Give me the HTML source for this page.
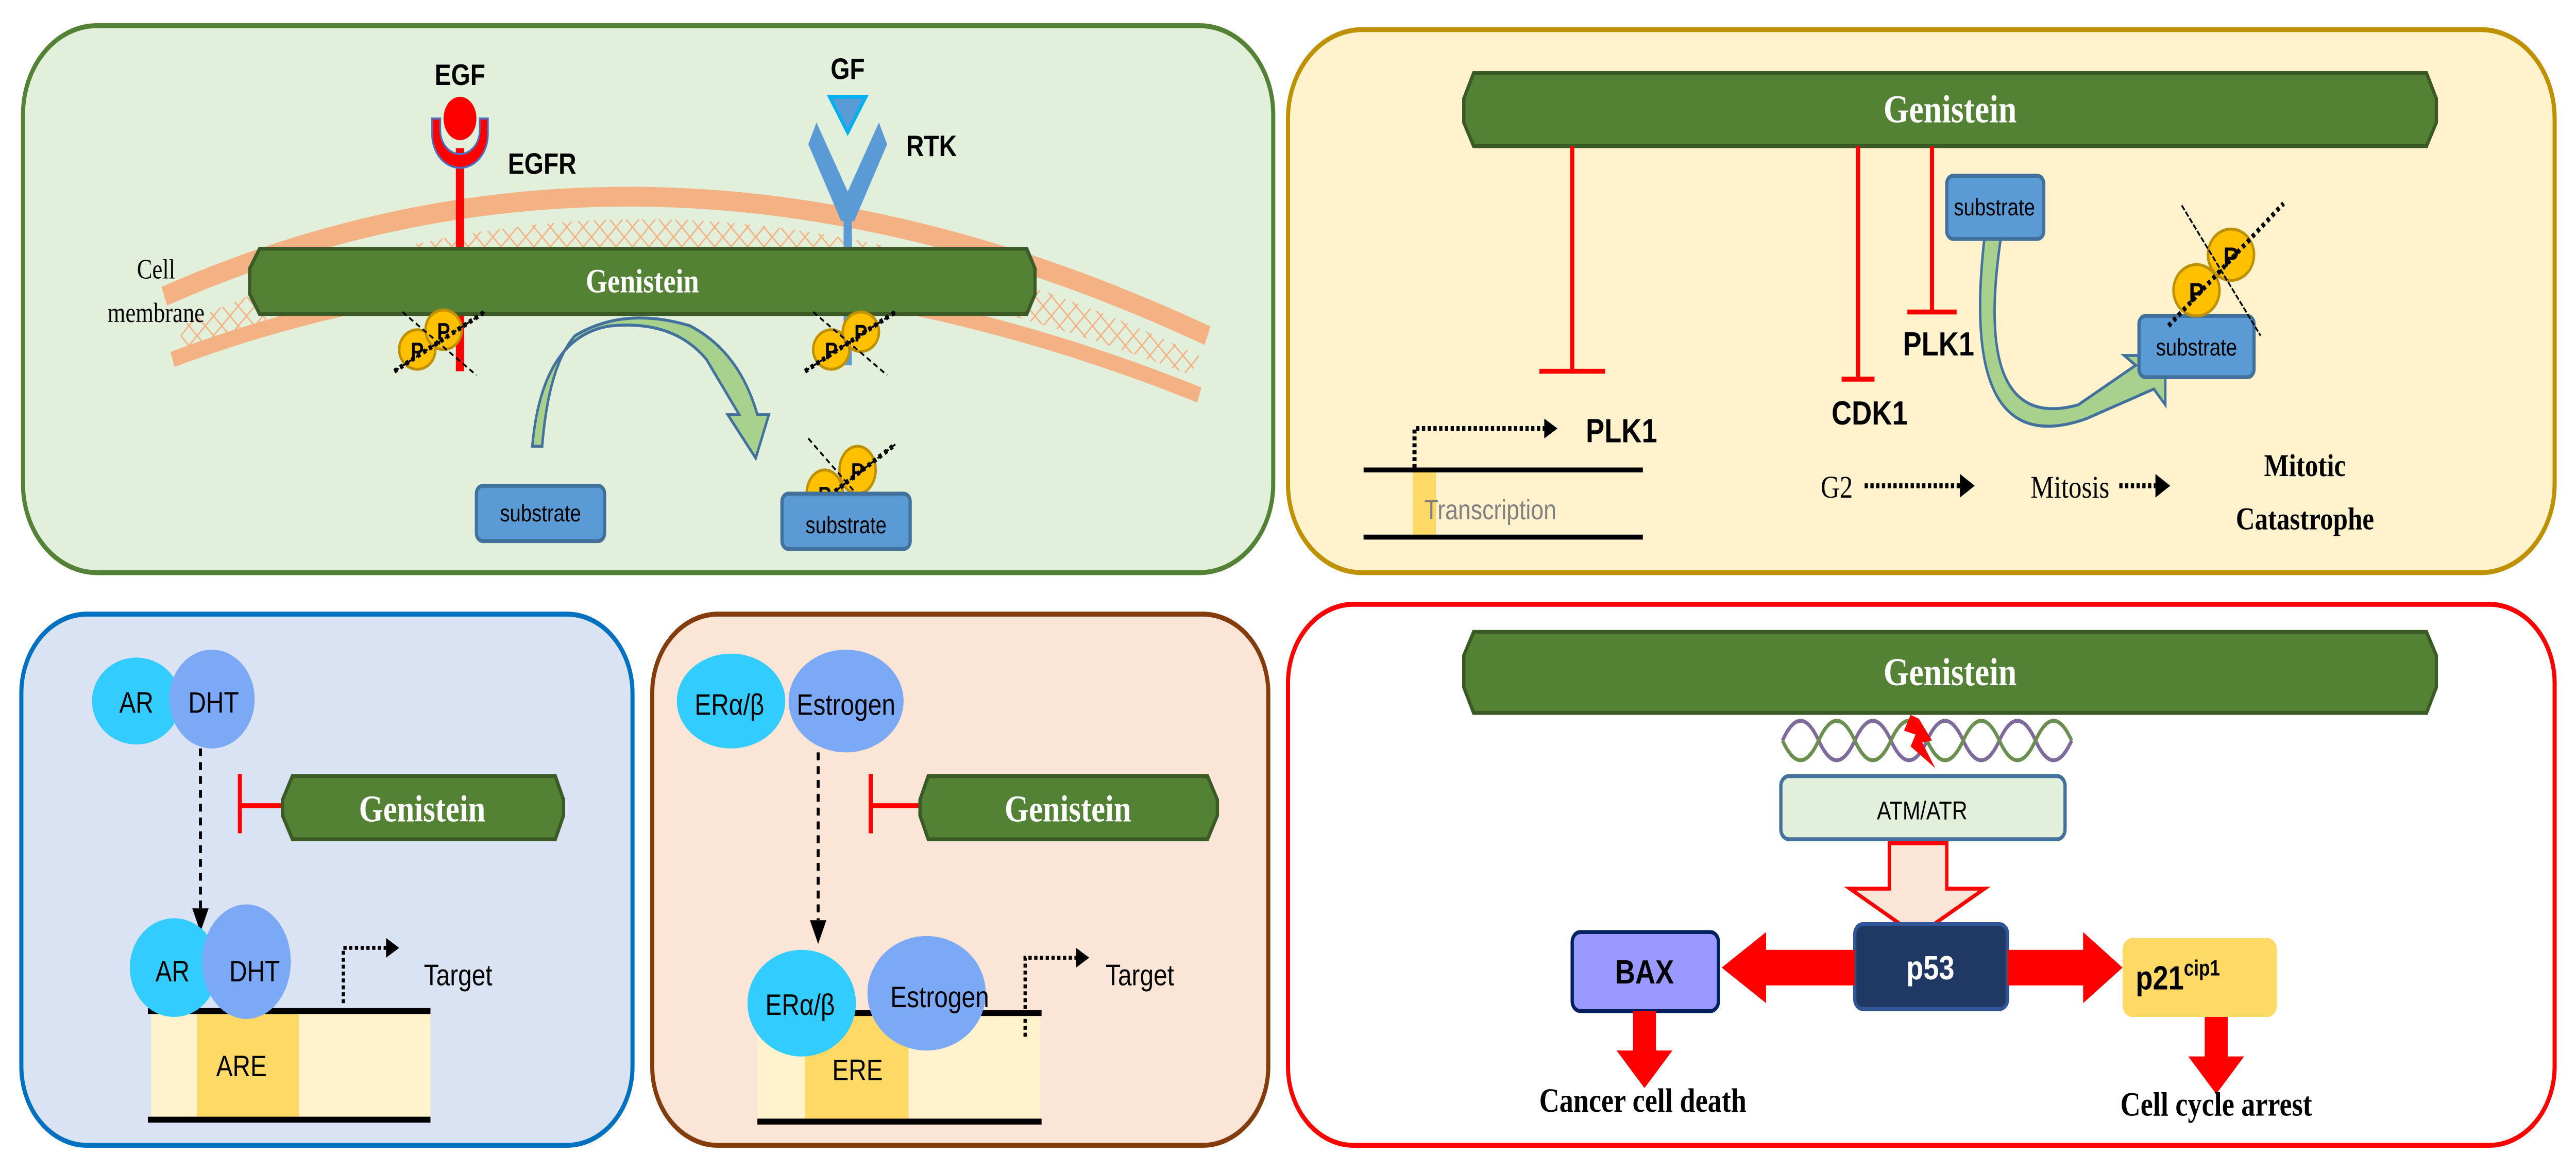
<!DOCTYPE html>
<html><head><meta charset="utf-8"><style>
html,body{margin:0;padding:0;background:#fff;overflow:hidden;width:100vw;height:100vh;}
svg{display:block;position:absolute;left:0;top:0;width:100vw;height:100vh;}
.sb{font-family:"Liberation Sans",sans-serif;font-weight:bold;}
.sf{font-family:"Liberation Serif",serif;font-weight:bold;}
.gen{font-family:"Liberation Serif",serif;font-weight:bold;fill:#fff;}
</style></head><body>
<svg viewBox="0 0 1568 593" preserveAspectRatio="none" xmlns="http://www.w3.org/2000/svg">
<defs>
<pattern id="hatch" width="10" height="10" patternUnits="userSpaceOnUse">
<path d="M0,0 L10,10 M10,0 L0,10" stroke="#f4b183" stroke-width="0.8"/>
</pattern>
</defs>

<!-- Panel 1 -->
<rect x="14" y="13" width="761" height="277" rx="45" fill="#e2efda" stroke="#538135" stroke-width="2.5"/>
<path d="M110,165 Q400,50 730,180 L725,190 Q400,85 110,178 z" fill="url(#hatch)"/>
<path d="M100,150 Q400,40 735,170" fill="none" stroke="#f4b183" stroke-width="10"/>
<path d="M105,182 Q400,90 730,200" fill="none" stroke="#f4b183" stroke-width="8"/>
<text x="95" y="141" class="sf" font-size="14" text-anchor="middle" style="font-weight:normal">Cell</text>
<text x="95" y="163" class="sf" font-size="14" text-anchor="middle" style="font-weight:normal">membrane</text>
<line x1="280" y1="75" x2="280" y2="188" stroke="#f00" stroke-width="5"/>
<path d="M263,60 L263,68 A17,17 0 0 0 297,68 L297,60 L292,60 L292,66 A12,12 0 0 1 268,66 L268,60z" fill="#f00" stroke="#4472c4" stroke-width="1"/>
<ellipse cx="280" cy="60" rx="10" ry="11" fill="#f00"/>
<text x="280" y="43" class="sb" font-size="15" text-anchor="middle">EGF</text>
<text x="330" y="88" class="sb" font-size="15" text-anchor="middle">EGFR</text>
<line x1="516" y1="100" x2="516" y2="185" stroke="#5b9bd5" stroke-width="5"/>
<path d="M497,62 L516,97 L535,62 L540,73 L520,112 L512,112 L492,73z" fill="#5b9bd5"/>
<path d="M505,49 L527,49 L516,67z" fill="#5b9bd5" stroke="#00b0f0" stroke-width="2"/>
<text x="516" y="40" class="sb" font-size="15" text-anchor="middle">GF</text>
<text x="567" y="79" class="sb" font-size="15" text-anchor="middle">RTK</text>
<path d="M158,126 L625,126 L630,136 L630,149 L625,159 L158,159 L152,149 L152,136z" fill="#548235" stroke="#3b5a26" stroke-width="2"/>
<text x="391" y="148" class="gen" font-size="17" text-anchor="middle">Genistein</text>
<g stroke="#bf9000" stroke-width="1.5" fill="#ffc000">
<ellipse cx="254" cy="177" rx="11" ry="10"/><ellipse cx="270" cy="167" rx="11" ry="10"/>
<ellipse cx="506" cy="177" rx="11" ry="10"/><ellipse cx="524" cy="168" rx="11" ry="10"/>
<ellipse cx="502" cy="250" rx="11" ry="12"/><ellipse cx="522" cy="238" rx="11" ry="12"/>
</g>
<g class="sb" font-size="12" text-anchor="middle">
<text x="254" y="182">P</text><text x="270" y="172">P</text>
<text x="506" y="182">P</text><text x="524" y="173">P</text>
<text x="502" y="255">P</text><text x="522" y="243">P</text>
</g>
<g stroke="#000" stroke-width="1" stroke-dasharray="3,2" fill="none">
<line x1="240" y1="188" x2="295" y2="158"/><line x1="245" y1="158" x2="290" y2="190"/>
<line x1="490" y1="188" x2="545" y2="158"/><line x1="495" y1="158" x2="540" y2="190"/>
<line x1="488" y1="262" x2="545" y2="225"/><line x1="492" y1="222" x2="540" y2="268"/>
</g>
<g stroke="#000" stroke-width="2.5" stroke-dasharray="2,2" fill="none">
<line x1="240" y1="188" x2="295" y2="158"/><line x1="490" y1="188" x2="545" y2="158"/><line x1="488" y1="262" x2="545" y2="225"/>
</g>
<path d="M324,226 Q330,170 372,165 Q410,162 430,182 L450,210 L443,210 L460,232 L468,210 L461,210 Q450,178 420,165 Q380,155 350,170 Q334,185 330,226z" fill="#a9d18e" stroke="#41719c" stroke-width="1.5"/>
<rect x="290" y="246" width="78" height="28" rx="4" fill="#5b9bd5" stroke="#41719c" stroke-width="2"/>
<text x="329" y="264" class="sb" font-size="12" text-anchor="middle" style="font-weight:normal">substrate</text>
<rect x="476" y="250" width="78" height="28" rx="4" fill="#5b9bd5" stroke="#41719c" stroke-width="2"/>
<text x="515" y="270" class="sb" font-size="12" text-anchor="middle" style="font-weight:normal">substrate</text>

<!-- Panel 2 -->
<rect x="784" y="15" width="771" height="275" rx="45" fill="#fff2cc" stroke="#bf9000" stroke-width="2.5"/>
<path d="M897,37 L1477,37 L1483,50 L1483,62 L1477,74 L897,74 L891,62 L891,50z" fill="#548235" stroke="#3b5a26" stroke-width="2"/>
<text x="1187" y="62" class="gen" font-size="20" text-anchor="middle">Genistein</text>
<g stroke="#f00" stroke-width="2.5">
<line x1="957" y1="74" x2="957" y2="188"/><line x1="937" y1="188" x2="977" y2="188"/>
<line x1="1131" y1="74" x2="1131" y2="192"/><line x1="1121" y1="192" x2="1141" y2="192"/>
<line x1="1176" y1="74" x2="1176" y2="158"/><line x1="1161" y1="158" x2="1191" y2="158"/>
</g>
<text x="987" y="224" class="sb" font-size="17" text-anchor="middle">PLK1</text>
<text x="1138" y="215" class="sb" font-size="17" text-anchor="middle">CDK1</text>
<text x="1180" y="180" class="sb" font-size="17" text-anchor="middle">PLK1</text>
<rect x="860" y="237" width="14" height="35" fill="#ffd966"/>
<line x1="830" y1="238" x2="1000" y2="238" stroke="#000" stroke-width="2.5"/>
<line x1="830" y1="272" x2="1000" y2="272" stroke="#000" stroke-width="2.5"/>
<text x="867" y="263" class="sb" font-size="14" fill="#808080" style="font-weight:normal">Transcription</text>
<path d="M861,237 L861,217 L940,217" fill="none" stroke="#000" stroke-width="2.5" stroke-dasharray="2,1.5"/>
<path d="M940,212 L948,217 L940,222z"/>
<text x="1118" y="252" class="sf" font-size="16" text-anchor="middle" style="font-weight:normal">G2</text>
<line x1="1135" y1="246" x2="1193" y2="246" stroke="#000" stroke-width="2.5" stroke-dasharray="2,1.5"/>
<path d="M1193,240 L1202,246 L1193,252z"/>
<text x="1260" y="252" class="sf" font-size="16" text-anchor="middle" style="font-weight:normal">Mitosis</text>
<line x1="1290" y1="246" x2="1312" y2="246" stroke="#000" stroke-width="2.5" stroke-dasharray="2,1.5"/>
<path d="M1312,240 L1321,246 L1312,252z"/>
<text x="1403" y="241" class="sf" font-size="16" text-anchor="middle">Mitotic</text>
<text x="1403" y="268" class="sf" font-size="16" text-anchor="middle">Catastrophe</text>
<path d="M1218,120 Q1200,220 1265,205 L1300,185 L1293,180 L1318,180 L1318,205 L1311,197 L1270,212 Q1192,235 1208,120z" fill="#a9d18e" stroke="#41719c" stroke-width="1.5"/>
<rect x="1185" y="89" width="59" height="32" rx="4" fill="#5b9bd5" stroke="#41719c" stroke-width="2"/>
<text x="1214" y="109" class="sb" font-size="12" text-anchor="middle" style="font-weight:normal">substrate</text>
<rect x="1302" y="160" width="70" height="31" rx="4" fill="#5b9bd5" stroke="#41719c" stroke-width="2"/>
<text x="1337" y="180" class="sb" font-size="12" text-anchor="middle" style="font-weight:normal">substrate</text>
<g stroke="#bf9000" stroke-width="1.5" fill="#ffc000">
<ellipse cx="1337" cy="147" rx="14" ry="13"/><ellipse cx="1358" cy="129" rx="14" ry="13"/>
</g>
<text x="1337" y="153" class="sb" font-size="14" text-anchor="middle">P</text>
<text x="1358" y="135" class="sb" font-size="14" text-anchor="middle">P</text>
<line x1="1320" y1="165" x2="1390" y2="103" stroke="#000" stroke-width="2.5" stroke-dasharray="2,2"/>
<line x1="1328" y1="104" x2="1376" y2="170" stroke="#000" stroke-width="1" stroke-dasharray="3,1"/>

<!-- Panel 3 -->
<rect x="13" y="311" width="372" height="269" rx="40" fill="#dae3f3" stroke="#0070c0" stroke-width="2.5"/>
<ellipse cx="83" cy="355" rx="27" ry="22" fill="#33ccff"/>
<ellipse cx="129" cy="354" rx="26" ry="25" fill="#7ba9f5"/>
<text x="83" y="361" class="sb" font-size="15" text-anchor="middle" style="font-weight:normal">AR</text>
<text x="130" y="361" class="sb" font-size="15" text-anchor="middle" style="font-weight:normal">DHT</text>
<line x1="122" y1="379" x2="122" y2="460" stroke="#000" stroke-width="1.8" stroke-dasharray="4,3"/>
<path d="M117,460 L122,472 L127,460z"/>
<line x1="146" y1="392" x2="146" y2="422" stroke="#f00" stroke-width="2.5"/>
<line x1="146" y1="408" x2="172" y2="408" stroke="#f00" stroke-width="2.5"/>
<path d="M178,393 L338,393 L343,405 L343,413 L338,425 L178,425 L172,413 L172,405z" fill="#548235" stroke="#3b5a26" stroke-width="2"/>
<text x="257" y="416" class="gen" font-size="19" text-anchor="middle">Genistein</text>
<rect x="92" y="512" width="170" height="55" fill="#fff2cc"/>
<rect x="120" y="512" width="62" height="55" fill="#ffd966"/>
<line x1="90" y1="512" x2="262" y2="512" stroke="#000" stroke-width="3"/>
<line x1="90" y1="567" x2="262" y2="567" stroke="#000" stroke-width="3"/>
<text x="147" y="545" class="sb" font-size="15" text-anchor="middle" style="font-weight:normal">ARE</text>
<ellipse cx="106" cy="490" rx="27" ry="25" fill="#33ccff"/>
<ellipse cx="150" cy="487" rx="27" ry="29" fill="#7ba9f5"/>
<text x="105" y="497" class="sb" font-size="15" text-anchor="middle" style="font-weight:normal">AR</text>
<text x="155" y="497" class="sb" font-size="15" text-anchor="middle" style="font-weight:normal">DHT</text>
<path d="M209,508 L209,480 L235,480" fill="none" stroke="#000" stroke-width="2" stroke-dasharray="2,1.5"/>
<path d="M235,475 L243,480 L235,485z"/>
<text x="258" y="499" class="sb" font-size="15" style="font-weight:normal">Target</text>

<!-- Panel 4 -->
<rect x="397" y="311" width="375" height="269" rx="40" fill="#fbe5d6" stroke="#843c0c" stroke-width="2.5"/>
<ellipse cx="445" cy="355" rx="33" ry="24" fill="#33ccff"/>
<ellipse cx="515" cy="355" rx="35" ry="26" fill="#7ba9f5"/>
<text x="444" y="362" class="sb" font-size="15" text-anchor="middle" style="font-weight:normal">ERα/β</text>
<text x="515" y="362" class="sb" font-size="15" text-anchor="middle" style="font-weight:normal">Estrogen</text>
<line x1="498" y1="381" x2="498" y2="466" stroke="#000" stroke-width="1.8" stroke-dasharray="4,3"/>
<path d="M493,466 L498,478 L503,466z"/>
<line x1="530" y1="392" x2="530" y2="422" stroke="#f00" stroke-width="2.5"/>
<line x1="530" y1="408" x2="560" y2="408" stroke="#f00" stroke-width="2.5"/>
<path d="M565,393 L735,393 L741,405 L741,413 L735,425 L565,425 L560,413 L560,405z" fill="#548235" stroke="#3b5a26" stroke-width="2"/>
<text x="650" y="416" class="gen" font-size="19" text-anchor="middle">Genistein</text>
<rect x="461" y="513" width="172" height="55" fill="#fff2cc"/>
<rect x="490" y="513" width="63" height="55" fill="#ffd966"/>
<line x1="461" y1="513" x2="634" y2="513" stroke="#000" stroke-width="3"/>
<line x1="461" y1="568" x2="634" y2="568" stroke="#000" stroke-width="3"/>
<text x="522" y="547" class="sb" font-size="15" text-anchor="middle" style="font-weight:normal">ERE</text>
<ellipse cx="488" cy="508" rx="33" ry="27" fill="#33ccff"/>
<ellipse cx="564" cy="503" rx="36" ry="29" fill="#7ba9f5"/>
<text x="487" y="514" class="sb" font-size="15" text-anchor="middle" style="font-weight:normal">ERα/β</text>
<text x="572" y="510" class="sb" font-size="15" text-anchor="middle" style="font-weight:normal">Estrogen</text>
<path d="M624,525 L624,485 L655,485" fill="none" stroke="#000" stroke-width="2" stroke-dasharray="2,1.5"/>
<path d="M655,480 L663,485 L655,490z"/>
<text x="673" y="499" class="sb" font-size="15" style="font-weight:normal">Target</text>

<!-- Panel 5 -->
<rect x="784" y="306" width="771" height="274" rx="40" fill="#fff" stroke="#f00" stroke-width="2.5"/>
<path d="M897,320 L1477,320 L1483,332 L1483,348 L1477,361 L897,361 L891,348 L891,332z" fill="#548235" stroke="#3b5a26" stroke-width="2"/>
<text x="1187" y="347" class="gen" font-size="20" text-anchor="middle">Genistein</text>
<path d="M1085,375 q11,-20 22,0 t22,0 t22,0 t22,0 t22,0 t22,0 t22,0 t22,0" fill="none" stroke="#7f6a9c" stroke-width="2"/>
<path d="M1085,375 q11,20 22,0 t22,0 t22,0 t22,0 t22,0 t22,0 t22,0 t22,0" fill="none" stroke="#6a8f4f" stroke-width="2"/>
<path d="M1163,362 L1159,370 L1166,372 L1163,378 L1178,389 L1170,376 L1176,375 L1168,364z" fill="#f00"/>
<rect x="1084" y="393" width="173" height="32" rx="5" fill="#e2efda" stroke="#41719c" stroke-width="2"/>
<text x="1170" y="415" class="sb" font-size="13" text-anchor="middle" style="font-weight:normal">ATM/ATR</text>
<path d="M1150,427 L1185,427 L1185,450 L1208,450 L1167,474 L1126,450 L1150,450z" fill="#fbe5d6" stroke="#f00" stroke-width="2"/>
<rect x="1129" y="468" width="93" height="43" rx="5" fill="#203864" stroke="#2f5597" stroke-width="2"/>
<text x="1175" y="496" class="sb" font-size="17" fill="#fff" text-anchor="middle">p53</text>
<rect x="957" y="472" width="89" height="40" rx="5" fill="#9999ff" stroke="#002060" stroke-width="2"/>
<text x="1001" y="498" class="sb" font-size="17" text-anchor="middle">BAX</text>
<rect x="1292" y="475" width="94" height="40" rx="6" fill="#ffd966"/>
<text x="1300" y="501" class="sb" font-size="17">p21<tspan font-size="11" dy="-7">cip1</tspan></text>
<path d="M1129,481 L1075,481 L1075,472 L1048,490 L1075,508 L1075,499 L1129,499z" fill="#f00"/>
<path d="M1222,481 L1268,481 L1268,472 L1292,490 L1268,508 L1268,499 L1222,499z" fill="#f00"/>
<path d="M994,512 L1008,512 L1008,532 L1018,532 L1001,551 L984,532 L994,532z" fill="#f00"/>
<path d="M1342,515 L1356,515 L1356,535 L1366,535 L1349,554 L1332,535 L1342,535z" fill="#f00"/>
<text x="1000" y="563" class="sf" font-size="17" text-anchor="middle">Cancer cell death</text>
<text x="1349" y="565" class="sf" font-size="17" text-anchor="middle">Cell cycle arrest</text>
</svg>
</body></html>
